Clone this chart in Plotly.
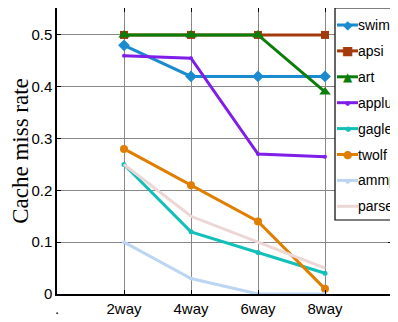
import plotly.graph_objects as go

tick_labels = [".", "2way", "4way", "6way", "8way", "."]
categories = ["2way", "4way", "6way", "8way"]
x_pos = [1, 2, 3, 4]

swim = [0.48, 0.42, 0.42, 0.42]
apsi = [0.50, 0.50, 0.50, 0.50]
art = [0.50, 0.50, 0.50, 0.39]
applu = [0.46, 0.455, 0.27, 0.265]
gagle = [0.25, 0.12, 0.08, 0.04]
twolf = [0.28, 0.21, 0.14, 0.01]
ammp = [0.10, 0.03, 0.0, 0.0]
parser = [0.25, 0.15, 0.10, 0.05]

# name, values, colour, marker symbol, marker size, legend glyph, glyph size
series = [
    ("swim", swim, "#1a8bd0", "diamond", 9, "◆", 12),
    ("apsi", apsi, "#a33a0c", "square", 8, "■", 12),
    ("art", art, "#0b7d0b", "triangle-up", 10, "▲", 12),
    ("applu", applu, "#7f1ee9", "circle", 4, "●", 6),
    ("gagle", gagle, "#12c0b9", "circle", 5, "●", 7),
    ("twolf", twolf, "#e07e00", "circle", 8, "●", 11),
    ("ammp", ammp, "#bcd5f3", "circle", 4, "●", 6),
    ("parser", parser, "#ecd7d6", "circle", 1, "", 6),
]

fig = go.Figure()
for name, vals, color, sym, size, _, _ in series:
    fig.add_trace(go.Scatter(
        x=x_pos, y=vals, name=name, mode="lines+markers",
        line=dict(color=color, width=3),
        marker=dict(symbol=sym, size=size, color=color),
    ))

# plot area in window pixels: left 57, right 392, top 8, bottom 294
PL, PW, PB, PH = 57.0, 335.0, 294.0, 286.0
def px(sx):
    return (sx - PL) / PW
def py(sy):
    return (PB - sy) / PH

shapes = [dict(type="rect", xref="paper", yref="paper", layer="above",
               x0=px(335), x1=px(410), y0=py(220), y1=py(8),
               fillcolor="white", line=dict(color="black", width=1.2))]
annotations = []
for i, (name, _, color, _, _, glyph, gsize) in enumerate(series):
    sy = 25 + 25.9 * i
    shapes.append(dict(type="line", xref="paper", yref="paper", layer="above",
                       x0=px(337), x1=px(358), y0=py(sy), y1=py(sy),
                       line=dict(color=color, width=3)))
    if glyph:
        annotations.append(dict(xref="paper", yref="paper", x=px(347.5), y=py(sy),
                                text=glyph, showarrow=False, xanchor="center", yanchor="middle",
                                font=dict(family="DejaVu Sans", size=gsize, color=color)))
    annotations.append(dict(xref="paper", yref="paper", x=px(358), y=py(sy), xshift=-2,
                            text=name, showarrow=False, xanchor="left", yanchor="middle",
                            font=dict(family="Liberation Sans, Arial", size=14, color="black")))

# page body has an 8px margin, so the figure is sized to fit the 398x322 window
fig.update_layout(
    width=390, height=314,
    margin=dict(l=49, r=6, t=0, b=28, autoexpand=False),
    plot_bgcolor="white", paper_bgcolor="white",
    font=dict(family="Liberation Sans, Arial", size=15, color="black"),
    showlegend=False,
    shapes=shapes,
    annotations=annotations,
    xaxis=dict(
        range=[0, 5], tickmode="array", tickvals=list(range(6)), ticktext=tick_labels,
        showgrid=True, gridcolor="#888", gridwidth=1, zeroline=False,
        showline=True, linecolor="black", linewidth=1.5, mirror="ticks",
        ticks="inside", ticklen=4, tickcolor="black", automargin=False,
    ),
    yaxis=dict(
        range=[0, 0.552], tickmode="array", tickvals=[0, 0.1, 0.2, 0.3, 0.4, 0.5],
        ticktext=["0", "0.1", "0.2", "0.3", "0.4", "0.5"],
        showgrid=True, gridcolor="#888", gridwidth=1, zeroline=False,
        showline=True, linecolor="black", linewidth=1.5, mirror="ticks",
        ticks="inside", ticklen=4, tickcolor="black", automargin=False,
        title=dict(text="Cache miss rate", font=dict(family="Liberation Serif, Times New Roman", size=23), standoff=4),
    ),
)

fig.write_html("out.html")
